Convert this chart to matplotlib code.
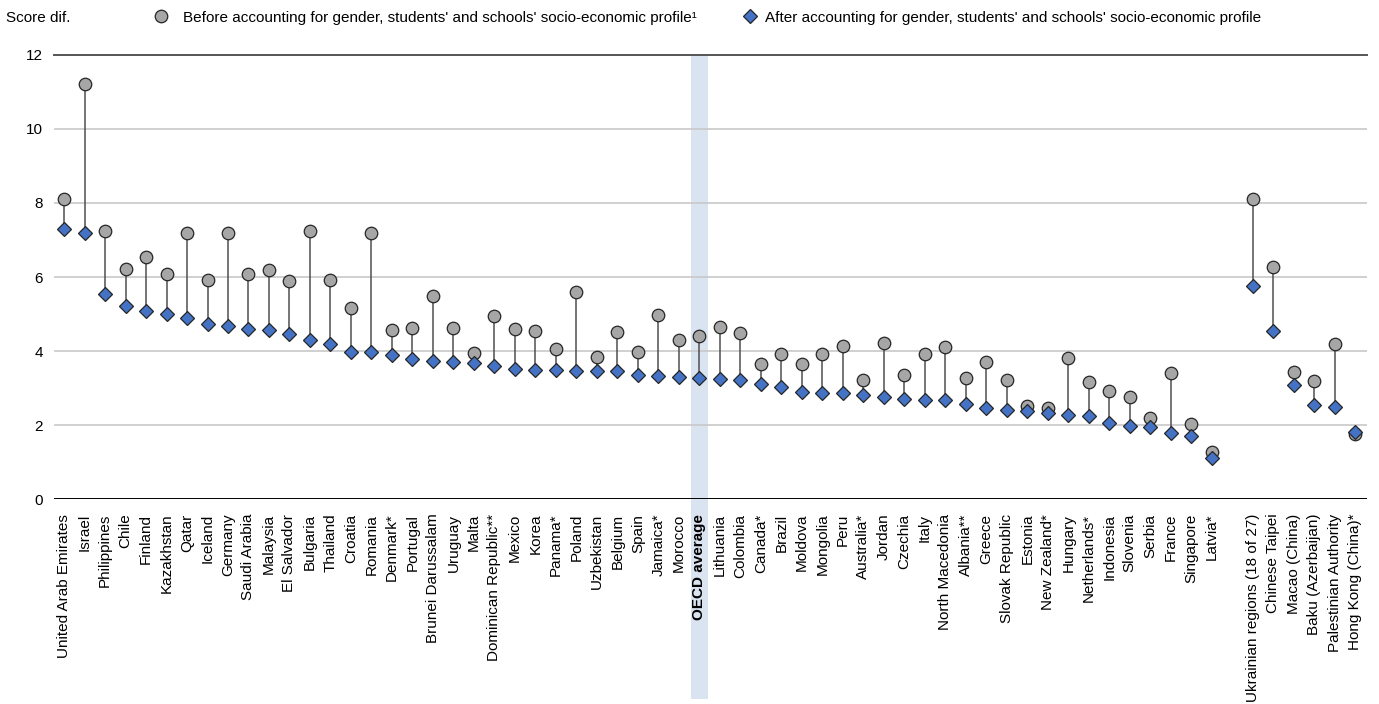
import numpy as np
import matplotlib
matplotlib.use("Agg")
import matplotlib.pyplot as plt
from matplotlib.lines import Line2D
from matplotlib.patches import Rectangle
import matplotlib.transforms as mtransforms

plt.rcParams['font.family'] = ['Liberation Sans', 'DejaVu Sans']

countries = [
    "United Arab Emirates", "Israel", "Philippines", "Chile", "Finland", "Kazakhstan",
    "Qatar", "Iceland", "Germany", "Saudi Arabia", "Malaysia", "El Salvador",
    "Bulgaria", "Thailand", "Croatia", "Romania", "Denmark*", "Portugal",
    "Brunei Darussalam", "Uruguay", "Malta", "Dominican Republic**", "Mexico", "Korea",
    "Panama*", "Poland", "Uzbekistan", "Belgium", "Spain", "Jamaica*", "Morocco",
    "OECD average", "Lithuania", "Colombia", "Canada*", "Brazil", "Moldova",
    "Mongolia", "Peru", "Australia*", "Jordan", "Czechia", "Italy",
    "North Macedonia", "Albania**", "Greece", "Slovak Republic", "Estonia",
    "New Zealand*", "Hungary", "Netherlands*", "Indonesia", "Slovenia", "Serbia",
    "France", "Singapore", "Latvia*",
]
partners = [
    "Ukrainian regions (18 of 27)", "Chinese Taipei", "Macao (China)",
    "Baku (Azerbaijan)", "Palestinian Authority", "Hong Kong (China)*",
]

before = [
    8.10, 11.22, 7.24, 6.23, 6.54, 6.07, 7.19, 5.91, 7.19, 6.09, 6.19, 5.89,
    7.24, 5.91, 5.16, 7.20, 4.58, 4.62, 5.50, 4.62, 3.96, 4.94, 4.60, 4.54,
    4.05, 5.60, 3.84, 4.52, 3.98, 4.97, 4.30, 4.41, 4.65, 4.48, 3.65, 3.93,
    3.64, 3.93, 4.15, 3.21, 4.23, 3.36, 3.91, 4.12, 3.27, 3.70, 3.21, 2.52,
    2.45, 3.80, 3.16, 2.93, 2.75, 2.20, 3.41, 2.03, 1.26,
]
after = [
    7.29, 7.20, 5.55, 5.23, 5.09, 5.01, 4.90, 4.72, 4.67, 4.59, 4.58, 4.46,
    4.29, 4.20, 3.97, 3.97, 3.90, 3.79, 3.72, 3.71, 3.67, 3.59, 3.51, 3.48,
    3.48, 3.46, 3.45, 3.45, 3.35, 3.32, 3.30, 3.27, 3.25, 3.23, 3.12, 3.02,
    2.89, 2.87, 2.86, 2.81, 2.77, 2.71, 2.68, 2.68, 2.57, 2.45, 2.41, 2.37,
    2.34, 2.28, 2.24, 2.07, 1.97, 1.94, 1.78, 1.70, 1.11,
]
before_partners = [8.10, 6.27, 3.43, 3.18, 4.19, 1.76]
after_partners = [5.76, 4.54, 3.09, 2.53, 2.49, 1.81]

GREY = '#a6a6a6'
BLUE = '#4472c4'
FS = 11


def main():
    labels = countries + partners
    x = np.concatenate([np.arange(len(countries)),
                        np.arange(len(partners)) + len(countries) + 1])
    b = np.array(before + before_partners)
    a = np.array(after + after_partners)

    fig = plt.figure(figsize=(13.79, 7.04), dpi=100)
    ax = fig.add_axes([0.039, 0.291, 0.952, 0.631])

    ax.set_ylim(0, 12)
    ax.set_xlim(-0.5, x[-1] + 0.55)
    ax.set_yticks(np.arange(0, 13, 2))
    ax.yaxis.grid(True, color='#c8c8c8', linewidth=1.2)
    ax.set_axisbelow(True)
    for s in ['left', 'right', 'bottom']:
        ax.spines[s].set_visible(False)
    ax.spines['top'].set_color('#555555')
    ax.spines['top'].set_linewidth(1.4)
    ax.axhline(0, color='black', linewidth=1.4, zorder=2)

    # OECD average band, reaching down over the labels
    oecd = countries.index("OECD average")
    trans = mtransforms.blended_transform_factory(ax.transData, ax.transAxes)
    band = Rectangle((oecd - 0.43, -0.45), 0.86, 1.45, transform=trans,
                     facecolor='#dae3f0', edgecolor='none', clip_on=False, zorder=0)
    ax.add_patch(band)

    ax.vlines(x, a, b, color='#505050', linewidth=1.1, zorder=3)
    ax.plot(x, b, linestyle='none', marker='o', ms=9, mfc=GREY, mec='#262626',
            mew=0.9, zorder=4)
    ax.plot(x, a, linestyle='none', marker='D', ms=7, mfc=BLUE, mec='#262626',
            mew=0.9, zorder=5)

    ax.set_xticks(x)
    ax.set_xticklabels(labels, rotation=90, fontsize=FS)
    ax.tick_params(axis='x', length=0, pad=10.5)
    ax.tick_params(axis='y', length=0, pad=8, labelsize=FS)
    for lab in ax.get_xticklabels():
        if lab.get_text() == "OECD average":
            lab.set_fontweight('bold')

    fig.text(0.004, 0.975, "Score dif.", fontsize=FS, va='center', ha='left')

    h1 = Line2D([], [], linestyle='none', marker='o', ms=9, mfc=GREY, mec='#262626', mew=0.9)
    h2 = Line2D([], [], linestyle='none', marker='D', ms=7, mfc=BLUE, mec='#262626', mew=0.9)
    fig.legend([h1], ["Before accounting for gender, students' and schools' socio-economic profile\u00b9"],
               loc='center left', bbox_to_anchor=(153.5 / 1379, 0.975), frameon=False,
               fontsize=FS, handlelength=1.0, handletextpad=0.9,
               borderpad=0, borderaxespad=0)
    fig.legend([h2], ["After accounting for gender, students' and schools' socio-economic profile"],
               loc='center left', bbox_to_anchor=(742.5 / 1379, 0.975), frameon=False,
               fontsize=FS, handlelength=1.0, handletextpad=0.5,
               borderpad=0, borderaxespad=0)

    fig.savefig('out.png', dpi=100)


if __name__ == '__main__':
    main()
